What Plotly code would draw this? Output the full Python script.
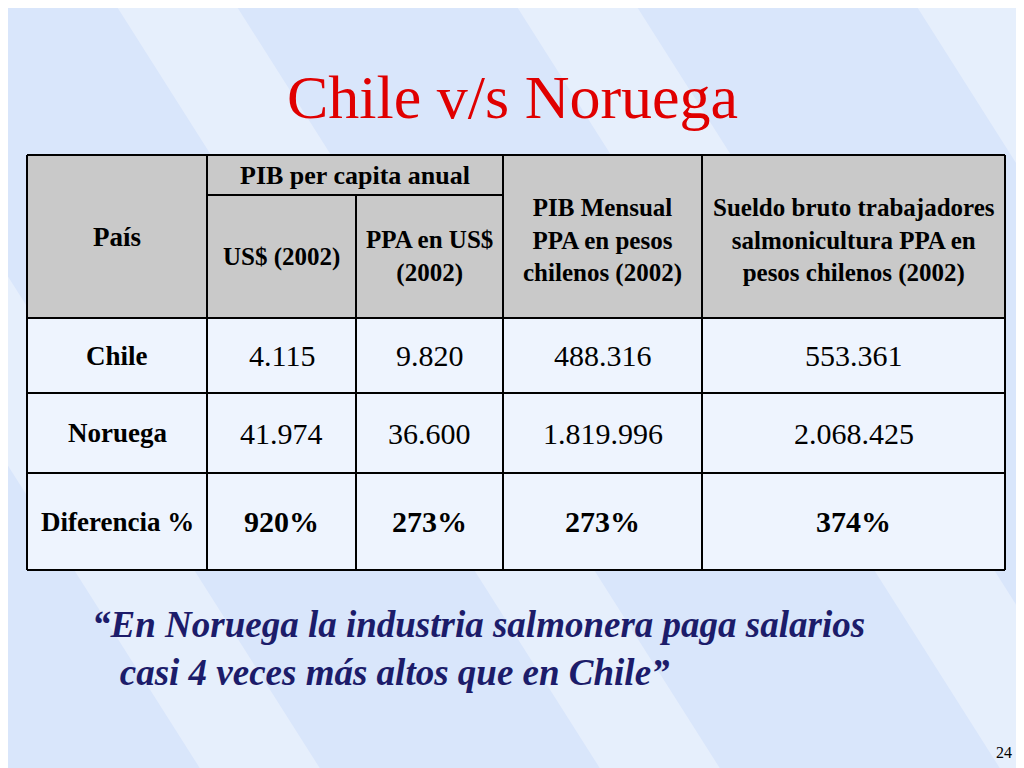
import plotly.graph_objects as go

title = "Chile v/s Noruega"
group_header = "PIB per capita anual"
headers = ["País", "US$ (2002)", "PPA en US$<br>(2002)",
           "PIB Mensual<br>PPA en pesos<br>chilenos (2002)",
           "Sueldo bruto trabajadores<br>salmonicultura PPA en<br>pesos chilenos (2002)"]
countries = ["Chile", "Noruega", "Diferencia %"]
pib_usd = ["4.115", "41.974", "920%"]
pib_ppa = ["9.820", "36.600", "273%"]
pib_mensual = ["488.316", "1.819.996", "273%"]
sueldo = ["553.361", "2.068.425", "374%"]
quote = "“En Noruega la industria salmonera paga salarios<br>   casi 4 veces más altos que en Chile”"
page = "24"

cols = [27, 207, 356, 503, 702, 1005]
rows = [155, 318, 393, 473, 570]
sub_y = 195
font = "Liberation Serif"

fig = go.Figure()
shapes = []
ann = []

# background with diagonal stripes
shapes.append(dict(type="rect", x0=-20, x1=1050, y0=-20, y1=800, fillcolor="#d9e6fb", line_width=0, layer="below"))
for off in [-300, 100, 500, 900]:
    shapes.append(dict(type="path", path=f"M {off},-20 L {off+120},-20 L {off+640},800 L {off+520},800 Z",
                       fillcolor="rgba(255,255,255,0.35)", line_width=0, layer="below"))

# header and body fills
shapes.append(dict(type="rect", x0=cols[0], x1=cols[-1], y0=rows[0], y1=rows[1], fillcolor="#c9c9c9", line_width=0))
shapes.append(dict(type="rect", x0=cols[0], x1=cols[-1], y0=rows[1], y1=rows[-1], fillcolor="#eef4fe", line_width=0))

lw = 2
for y in rows:
    shapes.append(dict(type="line", x0=cols[0], x1=cols[-1], y0=y, y1=y, line=dict(color="black", width=lw)))
shapes.append(dict(type="line", x0=cols[1], x1=cols[3], y0=sub_y, y1=sub_y, line=dict(color="black", width=lw)))
for i, x in enumerate(cols):
    y0 = sub_y if i == 2 else rows[0]
    shapes.append(dict(type="line", x0=x, x1=x, y0=y0, y1=rows[-1], line=dict(color="black", width=lw)))

def cell(x, y, text, size=30, bold=False):
    ann.append(dict(x=x, y=y, text=f"<b>{text}</b>" if bold else text, showarrow=False,
                    font=dict(family=font, size=size, color="black"), xref="x", yref="y"))

mid = lambda i: (cols[i] + cols[i + 1]) / 2
cell((cols[1] + cols[3]) / 2, (rows[0] + sub_y) / 2, group_header, 26, True)
cell(mid(0), (rows[0] + rows[1]) / 2, headers[0], 27, True)
cell(mid(1), (sub_y + rows[1]) / 2, headers[1], 25, True)
cell(mid(2), (sub_y + rows[1]) / 2, headers[2], 25, True)
cell(mid(3), (rows[0] + rows[1]) / 2 + 4, headers[3], 25, True)
cell(mid(4), (rows[0] + rows[1]) / 2 + 4, headers[4], 25, True)

for r in range(3):
    yc = (rows[r + 1] + rows[r + 2]) / 2
    b = r == 2
    cell(mid(0), yc, countries[r], 27, True)
    for c, vals in enumerate([pib_usd, pib_ppa, pib_mensual, sueldo]):
        cell(mid(c + 1), yc, vals[r], 30, b)

ann.append(dict(x=512, y=97, text=title, showarrow=False,
                font=dict(family=font, size=62, color="#e00000")))
ann.append(dict(x=90, y=648, text=f"<b><i>{quote}</i></b>", showarrow=False, xanchor="left", align="left",
                font=dict(family=font, size=37, color="#1c1c6a")))
ann.append(dict(x=1014, y=752, text=page, showarrow=False, xanchor="right",
                font=dict(family=font, size=16, color="black")))

# the page puts the plot 8px in from the top-left corner, so shift the ranges to match
fig.update_layout(width=1024, height=768, margin=dict(l=0, r=0, t=0, b=0),
                  xaxis=dict(range=[8, 1032], visible=False, fixedrange=True),
                  yaxis=dict(range=[776, 8], visible=False, fixedrange=True),
                  plot_bgcolor="#d9e6fb", paper_bgcolor="#d9e6fb",
                  shapes=shapes, annotations=ann, showlegend=False)
fig.write_html("out.html")
